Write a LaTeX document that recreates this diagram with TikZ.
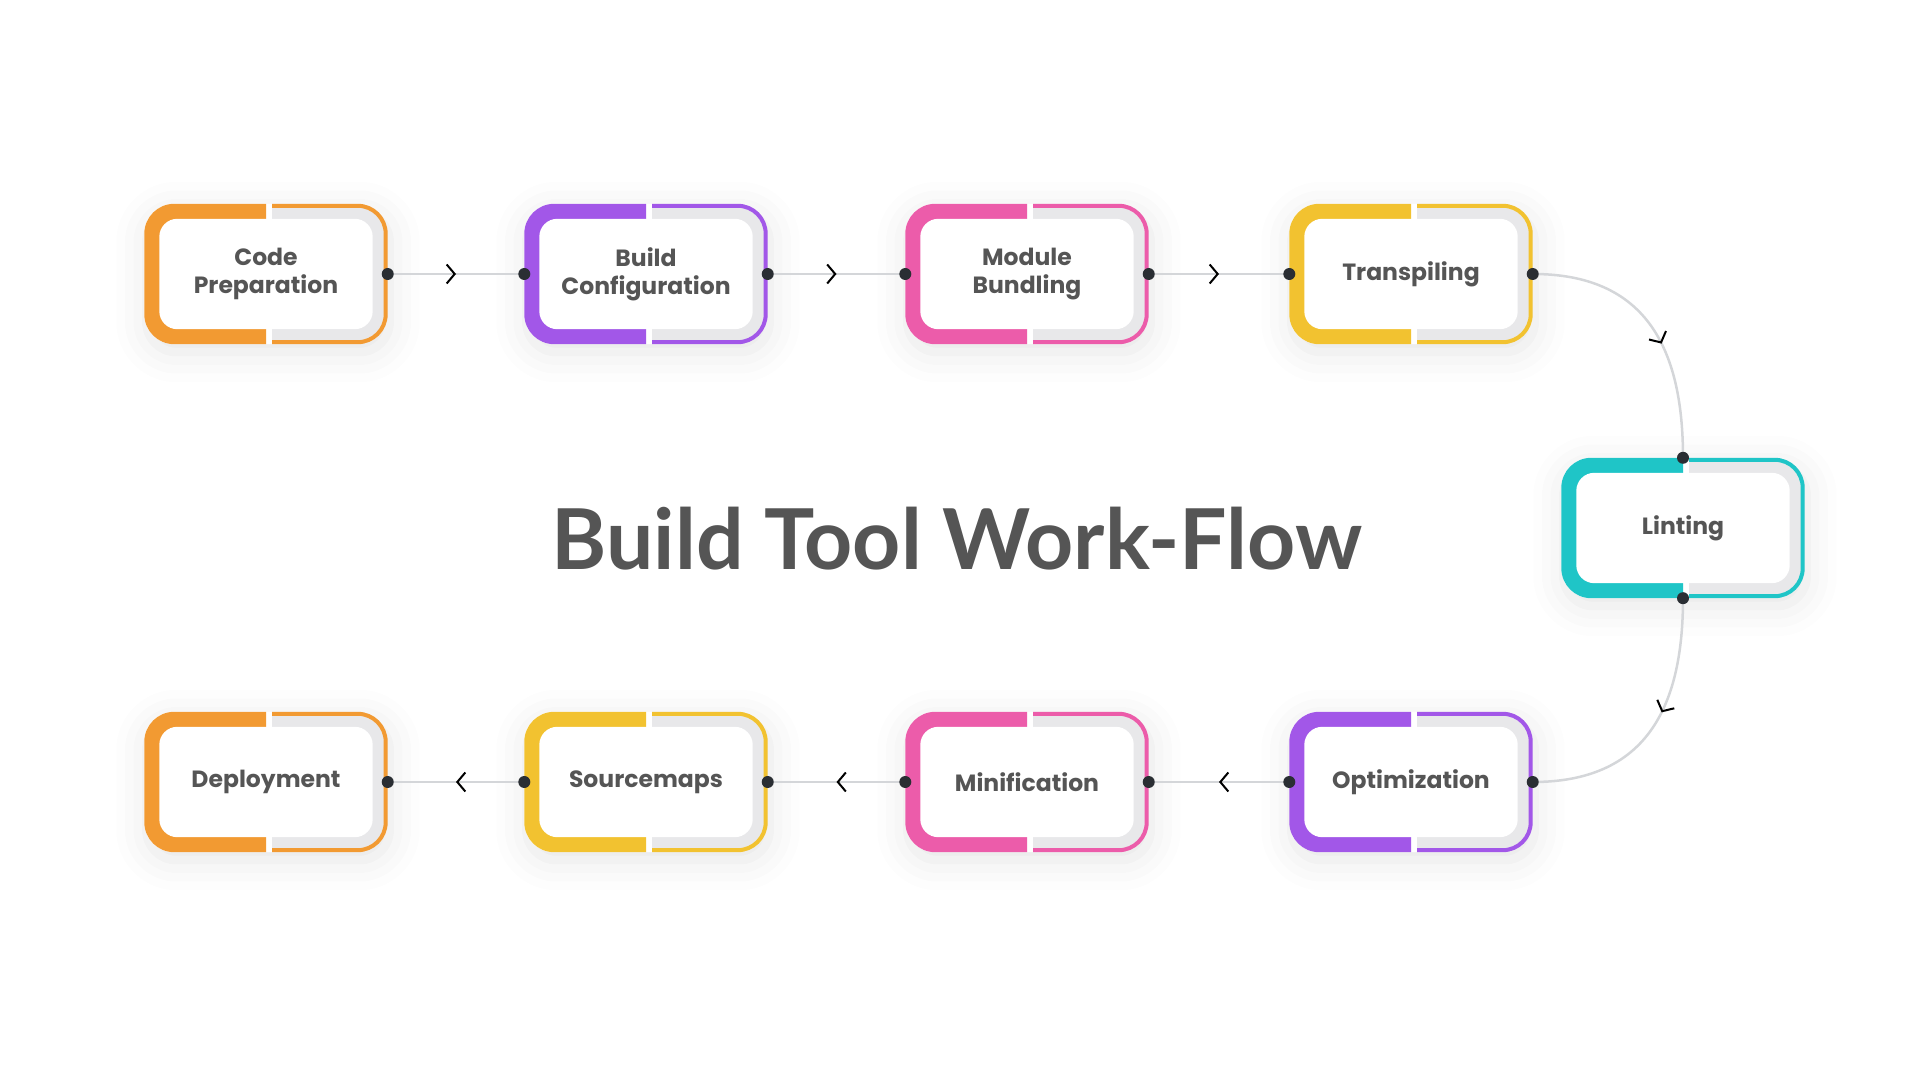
\documentclass[tikz,border=0pt]{standalone}
\usepackage{fontspec}
\usepackage{tikz}
\usetikzlibrary{positioning,arrows.meta,shadows.blur,backgrounds}
\usetikzlibrary{decorations.markings}
\newfontfamily\boxfont{Poppins}
\newfontfamily\titlefont{Lato}

\definecolor{corange}{HTML}{F29A32}
\definecolor{cpurple}{HTML}{A257E8}
\definecolor{cpink}{HTML}{EC5CAA}
\definecolor{cyellow}{HTML}{F2C230}
\definecolor{cteal}{HTML}{1FC5C7}
\definecolor{textgray}{HTML}{555555}
\definecolor{linegray}{HTML}{D4D6D9}
\definecolor{bandgray}{HTML}{E8E8EA}
\definecolor{dotc}{HTML}{2A2E33}

\tikzset{
  stepbox/.style={minimum width=243pt, minimum height=140pt, inner sep=0pt,
    align=center, text=textgray, font=\boxfont\bfseries\fontsize{23.5}{28}\selectfont},
  link/.style={linegray, line width=2.5pt,
    postaction={decorate, decoration={markings,
      mark=at position #1 with {\arrow[black, line width=2pt]{Straight Barb[length=8pt,width=19pt]}}}}},
  link/.default=0.5,
  dot/.style={dotc}
}

\begin{document}
\begin{tikzpicture}[x=1pt,y=1pt]
  \useasboundingbox (0,0) rectangle (1920,1080);

  \node[stepbox] (prep) at (266,806) {Code\\Preparation};
  \node[stepbox] (conf) at (646,806) {Build\\Configuration};
  \node[stepbox] (bund) at (1027,806) {Module\\Bundling};
  \node[stepbox] (trans) at (1411,806) {Transpiling};
  \node[stepbox] (lint) at (1683,552) {Linting};
  \node[stepbox] (opt) at (1411,298) {Optimization};
  \node[stepbox] (mini) at (1027,298) {Minification};
  \node[stepbox] (smap) at (646,298) {Sourcemaps};
  \node[stepbox] (depl) at (266,298) {Deployment};

  \node[anchor=base, text=textgray, font=\titlefont\bfseries\fontsize{84}{96}\selectfont]
    (title) at (957,510) {Build Tool Work-Flow};

  % box frames, behind the texts
  \begin{scope}[on background layer]
    \foreach \n/\c in {prep/corange, conf/cpurple, bund/cpink, trans/cyellow, lint/cteal,
                       opt/cpurple, mini/cpink, smap/cyellow, depl/corange}{
      \path[fill=white, rounded corners=30pt,
        blur shadow={shadow xshift=2pt, shadow yshift=-8pt, shadow blur radius=30pt, shadow opacity=10}]
        (\n.south west) rectangle (\n.north east);
      \begin{scope}
        \clip ([xshift=-10pt]\n.south west) rectangle (\n.north);
        \fill[\c, rounded corners=30pt] (\n.south west) rectangle (\n.north east);
      \end{scope}
      \begin{scope}
        \clip ([xshift=6pt]\n.south) rectangle ([xshift=10pt]\n.north east);
        \fill[bandgray, rounded corners=30pt] (\n.south west) rectangle (\n.north east);
        \draw[\c, line width=4pt, rounded corners=28pt]
          ([shift={(2pt,2pt)}]\n.south west) rectangle ([shift={(-2pt,-2pt)}]\n.north east);
      \end{scope}
      \fill[white, rounded corners=18pt]
        ([shift={(15pt,15pt)}]\n.south west) rectangle ([shift={(-15pt,-15pt)}]\n.north east);
    }
  \end{scope}

  % connectors
  \draw[link] (prep.east) -- (conf.west);
  \draw[link] (conf.east) -- (bund.west);
  \draw[link] (bund.east) -- (trans.west);
  \draw[link=0.57] (trans.east) to[out=0, in=90, looseness=1.2] (lint.north);
  \draw[link=0.43] (lint.south) to[out=-90, in=0, looseness=1.2] (opt.east);
  \draw[link] (opt.west) -- (mini.east);
  \draw[link] (mini.west) -- (smap.east);
  \draw[link] (smap.west) -- (depl.east);

  \foreach \n in {conf, bund, trans, opt, mini, smap}{
    \fill[dot] (\n.east) circle (6pt);
    \fill[dot] (\n.west) circle (6pt);
  }
  \fill[dot] (prep.east) circle (6pt);
  \fill[dot] (depl.east) circle (6pt);
  \fill[dot] (lint.north) circle (6pt);
  \fill[dot] (lint.south) circle (6pt);
\end{tikzpicture}
\end{document}
